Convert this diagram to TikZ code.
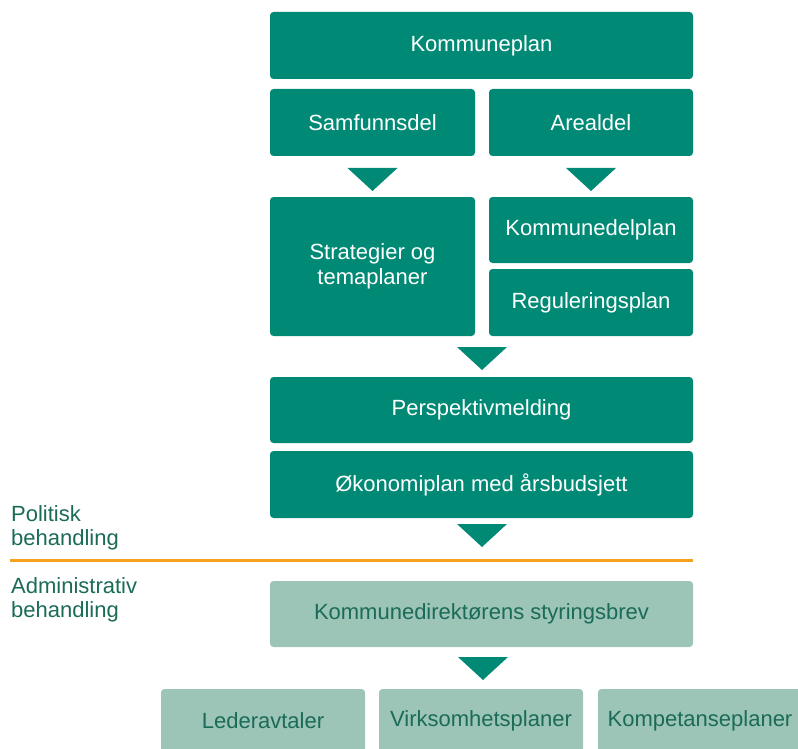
\documentclass[tikz,border=0pt]{standalone}
\usepackage{fontspec}
\setmainfont{Liberation Sans}
\definecolor{dkgreen}{HTML}{008A75}
\definecolor{ltgreen}{HTML}{9CC4B7}
\definecolor{txtgreen}{HTML}{1A6B57}
\definecolor{orangeline}{HTML}{F5A21E}
\begin{document}
\begin{tikzpicture}[x=1pt,y=-1pt,
  basebox/.style={rectangle, rounded corners=3.5pt, inner sep=0pt, align=center,
    font=\fontsize{22}{25}\selectfont},
  darkbox/.style={basebox, fill=dkgreen, text=white},
  lightbox/.style={basebox, fill=ltgreen, text=txtgreen},
  sidelabel/.style={anchor=north west, align=left, inner sep=0pt, text=txtgreen,
    font=\fontsize{22}{24}\selectfont},
  pics/downtri/.style={code={\fill[dkgreen] (-25,0) -- (25,0) -- (0,23) -- cycle;}}
]
\useasboundingbox (0,0) rectangle (798,749);
\clip (0,0) rectangle (798,749);

% Political part
\node[darkbox, minimum width=423, minimum height=67] (kplan) at (481.5,45.5) {Kommuneplan};
\node[darkbox, minimum width=205, minimum height=67] (samf) at (372.5,122.5) {Samfunnsdel};
\node[darkbox, minimum width=204, minimum height=67] (areal) at (591,122.5) {Arealdel};

\pic at (372.5,168) {downtri};
\pic at (591,168) {downtri};

\node[darkbox, minimum width=205, minimum height=139] (strat) at (372.5,266.5) {Strategier og\\temaplaner};
\node[darkbox, minimum width=204, minimum height=66] (kdel) at (591,230) {Kommunedelplan};
\node[darkbox, minimum width=204, minimum height=67] (regul) at (591,302.5) {Reguleringsplan};

\pic at (482,347) {downtri};

\node[darkbox, minimum width=423, minimum height=66] (persp) at (481.5,410) {Perspektivmelding};
\node[darkbox, minimum width=423, minimum height=67] (okon) at (481.5,484.5) {Økonomiplan med årsbudsjett};

\pic at (482,524) {downtri};

% Divider
\coordinate (divL) at (10,560);
\coordinate (divR) at (693,560);
\draw[orangeline, line width=3pt] (divL) -- (divR);

\node[sidelabel] (polit) at (11,505) {Politisk\\behandling};
\node[sidelabel] (admin) at (11,577) {Administrativ\\behandling};

% Administrative part
\node[lightbox, minimum width=423, minimum height=66] (styr) at (481.5,614) {Kommunedirektørens styringsbrev};

\pic at (483,657) {downtri};

\node[lightbox, minimum width=204, minimum height=64] (leder) at (263,721) {Lederavtaler};
\node[lightbox, minimum width=204, minimum height=64] (virk) at (481,721) {Virksomhetsplaner};
\node[lightbox, minimum width=204, minimum height=64] (komp) at (700,721) {Kompetanseplaner};
\end{tikzpicture}
\end{document}
